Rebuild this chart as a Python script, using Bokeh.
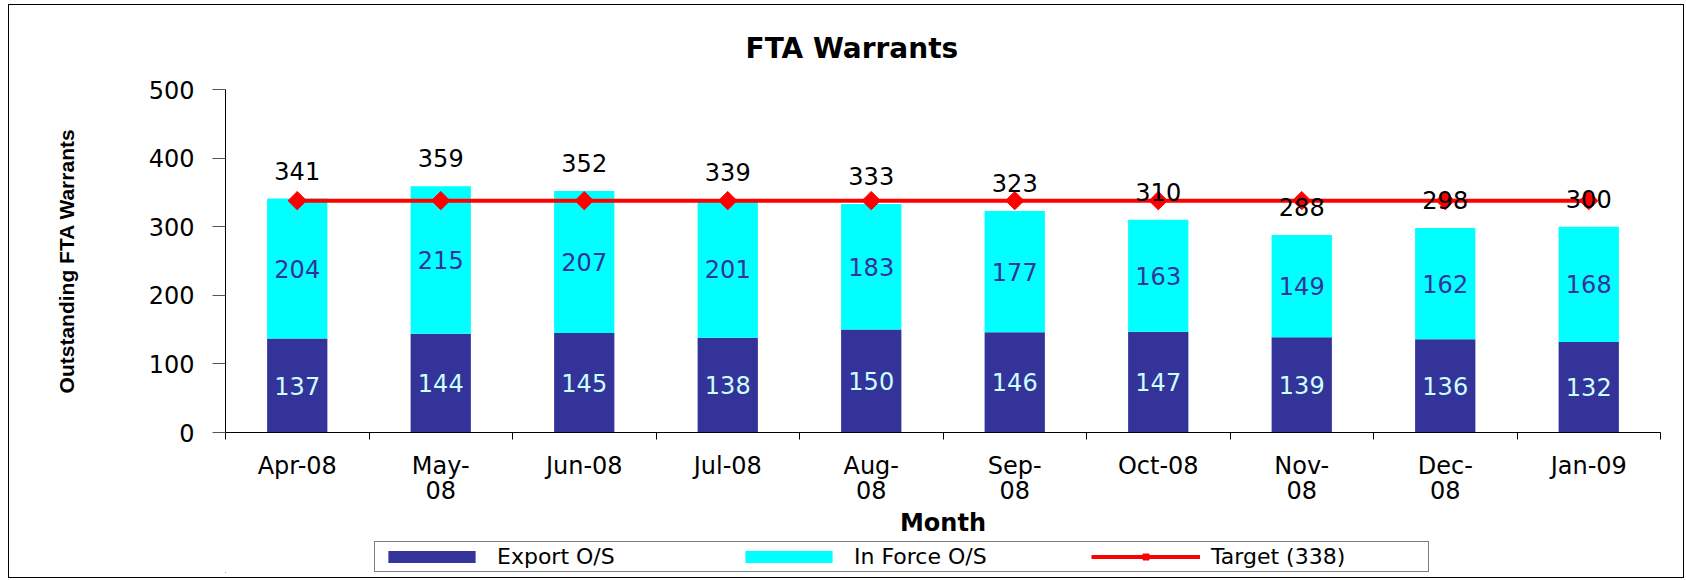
import math
from bokeh.plotting import figure
from bokeh.layouts import column
from bokeh.models import (ColumnDataSource, FixedTicker, Legend, LegendItem,
                          LabelSet, Range1d)
from bokeh.embed import file_html
from bokeh.resources import INLINE
from bokeh.core.properties import value

# ---------------- data ----------------
months = ["Apr-08", "May-08", "Jun-08", "Jul-08", "Aug-08",
          "Sep-08", "Oct-08", "Nov-08", "Dec-08", "Jan-09"]
tick_labels = ["Apr-08", "May-\n08", "Jun-08", "Jul-08", "Aug-\n08",
               "Sep-\n08", "Oct-08", "Nov-\n08", "Dec-\n08", "Jan-09"]
export_os = [137, 144, 145, 138, 150, 146, 147, 139, 136, 132]
in_force_os = [204, 215, 207, 201, 183, 177, 163, 149, 162, 168]
target_value = 338
y_ticks = [0, 100, 200, 300, 400, 500]

# ---------------- derived ----------------
n = len(months)
xs = list(range(1, n + 1))
totals = [e + f for e, f in zip(export_os, in_force_os)]
src = ColumnDataSource(dict(
    x=xs,
    month=months,
    export=export_os,
    in_force=in_force_os,
    total=totals,
    export_mid=[e / 2 for e in export_os],
    in_force_mid=[e + f / 2 for e, f in zip(export_os, in_force_os)],
    export_txt=[str(v) for v in export_os],
    in_force_txt=[str(v) for v in in_force_os],
    total_txt=[str(v) for v in totals],
    target=[target_value] * n,
))

FONT = "DejaVu Sans"
FS = "24px"
C_EXPORT = "#333399"
C_INFORCE = "#00FFFF"
C_TARGET = "#FF0000"
W = 1674
BL, BR = 216, 23

p = figure(width=W, height=535, output_backend="svg", toolbar_location=None,
           x_range=Range1d(0.5, n + 0.5), y_range=Range1d(0, 500),
           min_border_left=BL, min_border_right=BR,
           min_border_top=84, min_border_bottom=104)
p.background_fill_color = "white"
p.border_fill_color = "white"
p.outline_line_color = None
p.xgrid.visible = False
p.ygrid.visible = False

# title
p.title.text = "FTA Warrants"
p.title.align = "left"
p.title.offset = 520
p.title.standoff = 49
p.title.text_font = FONT
p.title.text_font_style = "bold"
p.title.text_font_size = "28px"
p.title.text_color = "#000000"

# bars
bars = p.vbar_stack(["export", "in_force"], x="x", width=0.42,
                    color=[C_EXPORT, C_INFORCE], line_color=None, source=src)

# target line
tline = p.line("x", "target", source=src, color=C_TARGET, line_width=4)
tpts = p.scatter("x", "target", source=src, marker="square", size=13,
                 angle=math.pi / 4, color=C_TARGET)

# labels
p.add_layout(LabelSet(x="x", y="export_mid", text="export_txt", source=src,
                      text_align="center", text_baseline="middle",
                      text_font=value(FONT), text_font_size=FS,
                      text_color="#CCFFFF"))
p.add_layout(LabelSet(x="x", y="in_force_mid", text="in_force_txt", source=src,
                      text_align="center", text_baseline="middle",
                      text_font=value(FONT), text_font_size=FS,
                      text_color=C_EXPORT))
p.add_layout(LabelSet(x="x", y="total", text="total_txt", source=src,
                      text_align="center", text_baseline="middle",
                      y_offset=28,
                      text_font=value(FONT), text_font_size=FS,
                      text_color="#000000"))

# y axis
ya = p.yaxis[0]
ya.ticker = FixedTicker(ticks=y_ticks)
ya.major_tick_in = 0
ya.major_tick_out = 13
ya.minor_tick_out = 0
ya.minor_tick_in = 0
ya.axis_line_color = "#000000"
ya.major_tick_line_color = "#555555"
ya.major_label_text_font = FONT
ya.major_label_text_font_size = FS
ya.major_label_text_color = "#000000"
ya.major_label_standoff = 18
ya.axis_label = "Outstanding FTA Warrants"
ya.axis_label_text_font = "Liberation Sans"
ya.axis_label_text_font_style = "bold"
ya.axis_label_text_font_size = "21px"
ya.axis_label_text_color = "#000000"
ya.axis_label_standoff = 68

# x axis
xa = p.xaxis[0]
xa.ticker = FixedTicker(ticks=xs, minor_ticks=[v + 0.5 for v in range(0, n + 1)])
xa.major_label_overrides = {x: lab for x, lab in zip(xs, tick_labels)}
xa.major_tick_in = 0
xa.major_tick_out = 0
xa.minor_tick_in = 0
xa.minor_tick_out = 7
xa.axis_line_color = "#000000"
xa.minor_tick_line_color = "#000000"
xa.major_label_text_font = FONT
xa.major_label_text_font_size = FS
xa.major_label_text_line_height = 0.92
xa.major_label_text_color = "#000000"
xa.major_label_standoff = 12
xa.axis_label = "Month"
xa.axis_label_text_font = FONT
xa.axis_label_text_font_style = "bold"
xa.axis_label_text_font_size = "24px"
xa.axis_label_text_color = "#000000"
xa.axis_label_standoff = 1

# ---------------- legend strip (own figure; proxy renderers lie far outside
# its ranges, so they draw no marks and only lend their styles to the legend)
lf = figure(width=W, height=37, output_backend="svg", toolbar_location=None,
            x_range=Range1d(100, 101), y_range=Range1d(5000, 5001),
            x_axis_location=None, y_axis_location=None,
            min_border_left=BL, min_border_right=BR,
            min_border_top=0, min_border_bottom=5)
lf.outline_line_color = None
lf.xgrid.visible = False
lf.ygrid.visible = False
lf.background_fill_color = "white"
lf.border_fill_color = "white"
lbars = lf.vbar_stack(["export", "in_force"], x="x", width=0.42,
                      color=[C_EXPORT, C_INFORCE], line_color=None, source=src)
lline = lf.line("x", "target", source=src, color=C_TARGET, line_width=4)
lpts = lf.scatter("x", "target", source=src, marker="square", size=13,
                  angle=math.pi / 4, color=C_TARGET)

legend = Legend(items=[
    LegendItem(label="Export O/S", renderers=[lbars[0]]),
    LegendItem(label="In Force O/S", renderers=[lbars[1]]),
    LegendItem(label="Target (338)", renderers=[lline, lpts]),
], orientation="horizontal", location=(149, 0),
    glyph_width=109, glyph_height=15, label_width=215, label_standoff=11,
    spacing=22, padding=2, margin=0,
    label_text_font=FONT, label_text_font_size="22px",
    label_text_color="#000000",
    border_line_color="#000000", border_line_width=1,
    background_fill_color="white", background_fill_alpha=1.0)
lf.add_layout(legend, "center")

layout = column(p, lf, spacing=0)
layout.styles = {"margin-left": "8px", "margin-top": "4px",
                 "border": "1px solid #000000"}

open("out.html", "w").write(file_html(layout, INLINE))
